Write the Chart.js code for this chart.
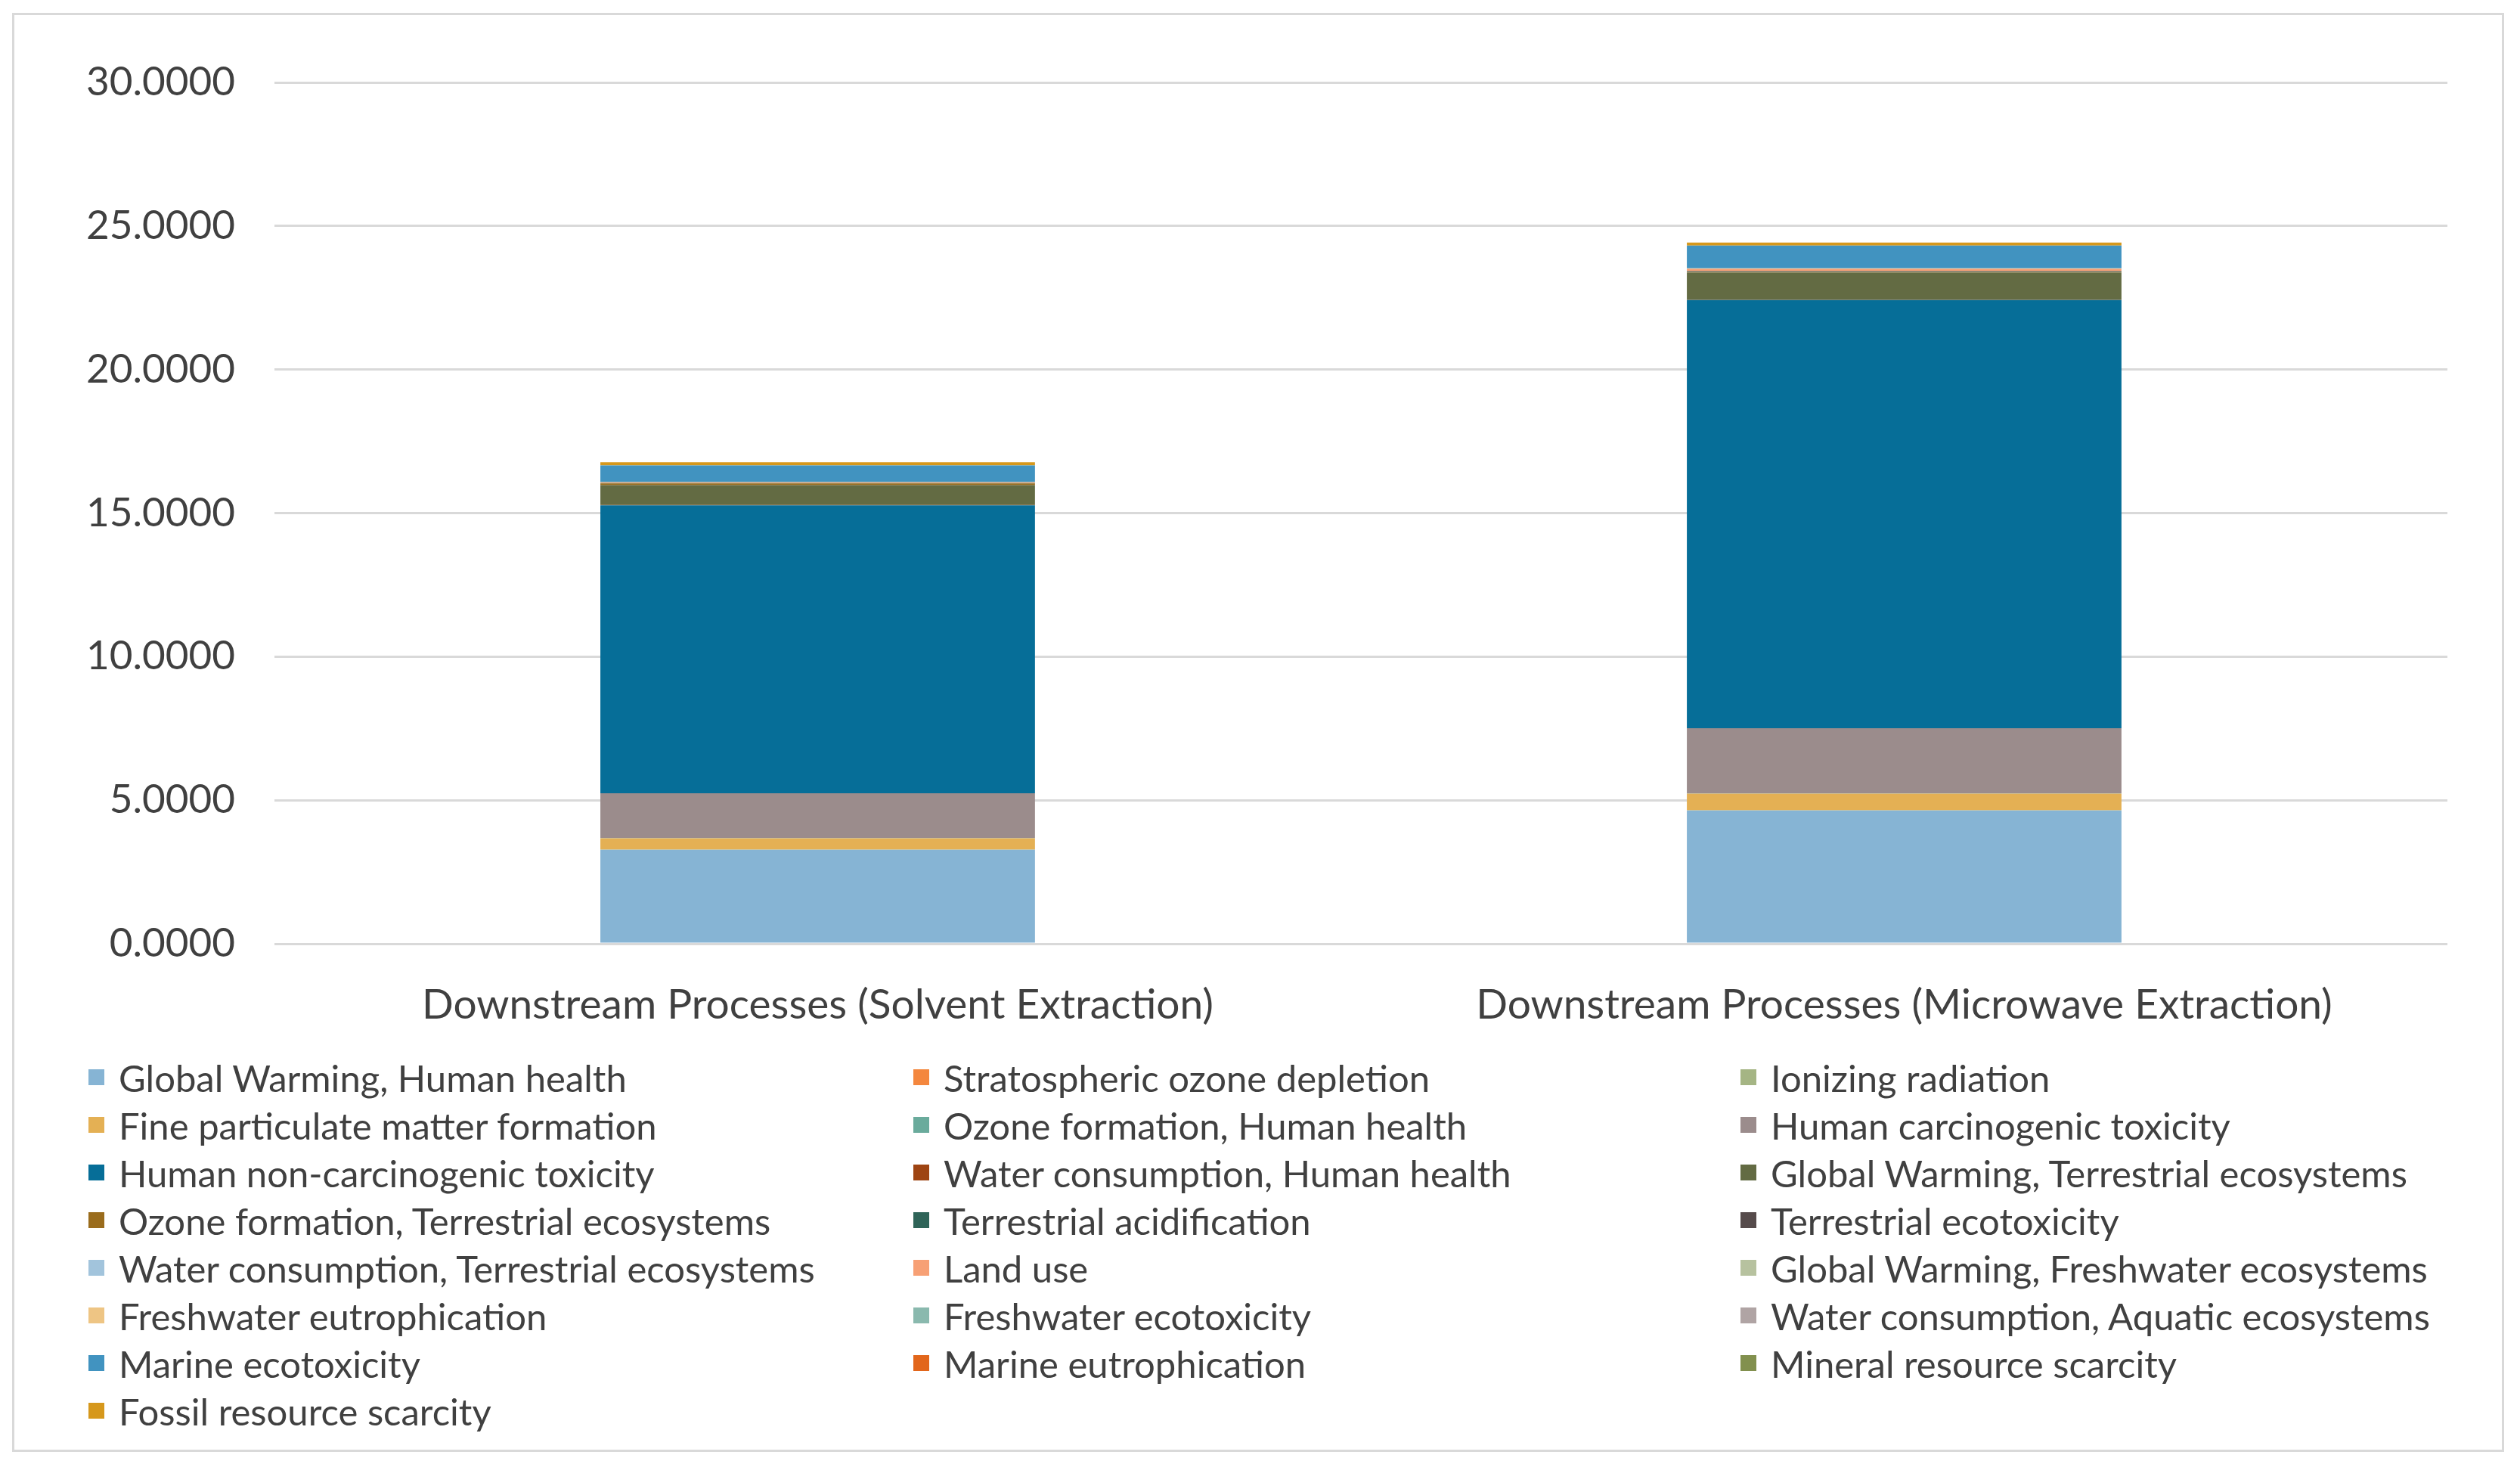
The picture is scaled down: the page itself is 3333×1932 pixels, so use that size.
<!DOCTYPE html>
<html>
<head>
<meta charset="utf-8">
<script src="https://cdn.jsdelivr.net/npm/chart.js@4.4.1/dist/chart.umd.min.js"></script>
<style>
    body { margin: 0; background: #ffffff; }
    .page { position: relative; width: 3333px; height: 1932px; background: #ffffff; overflow: hidden; }
    .frame { position: absolute; left: 16px; top: 17px; width: 3290px; height: 1897px; border: 3px solid #d9d9d9; }
    .chart-box { position: absolute; left: 0; top: 0; width: 3333px; height: 1430px; }
    .legend {
        position: absolute; left: 117px; top: 1393px;
        display: grid; grid-template-columns: 1091px 1094px auto;
        grid-auto-rows: 63px;
        font-family: Lato, "Open Sans", sans-serif; font-size: 49px; color: #404040;
    }
    .legend-item { display: flex; align-items: center; white-space: nowrap; }
    .legend-swatch { width: 21px; height: 21px; margin-right: 19px; flex: none; }
</style>
</head>
<body>
<div class="page">
    <div class="frame"></div>
    <div class="chart-box"><canvas id="impactChart"></canvas></div>
    <div class="legend" id="legend"></div>
</div>

<script>
// Categories (x axis)
const categories = [
    'Downstream Processes (Solvent Extraction)',
    'Downstream Processes (Microwave Extraction)'
];

// Impact categories, in stacking order (bottom to top)
const impactNames = [
    'Global Warming, Human health',
    'Stratospheric ozone depletion',
    'Ionizing radiation',
    'Fine particulate matter formation',
    'Ozone formation, Human health',
    'Human carcinogenic toxicity',
    'Human non-carcinogenic toxicity',
    'Water consumption, Human health',
    'Global Warming, Terrestrial ecosystems',
    'Ozone formation, Terrestrial ecosystems',
    'Terrestrial acidification',
    'Terrestrial ecotoxicity',
    'Water consumption, Terrestrial ecosystems',
    'Land use',
    'Global Warming, Freshwater ecosystems',
    'Freshwater eutrophication',
    'Freshwater ecotoxicity',
    'Water consumption, Aquatic ecosystems',
    'Marine ecotoxicity',
    'Marine eutrophication',
    'Mineral resource scarcity',
    'Fossil resource scarcity'
];

// Values, one per impact category
const solventValues = [
    3.27, 0.002, 0.004, 0.40, 0.006, 1.56, 10.03, 0.01, 0.69, 0.06, 0.01,
    0.005, 0.0001, 0.02, 0.0001, 0.01, 0.003, 0.0001, 0.58, 0.0005, 0.002, 0.11
];
const microwaveValues = [
    4.64, 0.003, 0.006, 0.58, 0.009, 2.27, 14.91, 0.01, 0.95, 0.02, 0.02,
    0.008, 0.0001, 0.08, 0.0001, 0.015, 0.005, 0.0001, 0.79, 0.0005, 0.003, 0.10
];

// Y axis ticks
const yTicks = [0, 5, 10, 15, 20, 25, 30];

// Series colours
const palette = [
    '#86b4d4', '#f4873e', '#a5b584', '#e4b054', '#6aab9c', '#9b8c8c',
    '#066e98', '#9e4412', '#636b43', '#9a6c1c', '#2f6458', '#564b4b',
    '#a2c4dc', '#f7a075', '#b7c29f', '#eec584', '#8ab9ae', '#b0a4a4',
    '#4193c0', '#e2661b', '#82904e', '#d6981c'
];

document.addEventListener('DOMContentLoaded', function() {
    const chart = initImpactChart();
    buildLegend(chart);
});

function initImpactChart() {
    const ctx = document.getElementById('impactChart').getContext('2d');

    const datasets = impactNames.map(function(name, i) {
        return {
            label: name,
            data: [solventValues[i], microwaveValues[i]],
            backgroundColor: palette[i],
            borderWidth: 0,
            barPercentage: 0.4,
            categoryPercentage: 1.0
        };
    });

    return new Chart(ctx, {
        type: 'bar',
        data: {
            labels: categories,
            datasets: datasets
        },
        options: {
            responsive: true,
            maintainAspectRatio: false,
            animation: false,
            layout: {
                padding: { left: 62, right: 96, top: 109, bottom: 20 }
            },
            plugins: {
                legend: { display: false },
                tooltip: { enabled: false }
            },
            scales: {
                x: {
                    stacked: true,
                    grid: { display: false, drawTicks: false },
                    border: { display: false },
                    ticks: {
                        color: '#404040',
                        padding: 48,
                        font: { family: 'Lato', size: 55 }
                    }
                },
                y: {
                    stacked: true,
                    min: yTicks[0],
                    max: yTicks[yTicks.length - 1],
                    afterBuildTicks: function(axis) {
                        axis.ticks = yTicks.map(v => ({ value: v }));
                    },
                    grid: {
                        color: '#d9d9d9',
                        lineWidth: 3,
                        drawTicks: false
                    },
                    border: { display: false },
                    ticks: {
                        color: '#404040',
                        padding: 52,
                        font: { family: 'Lato', size: 53 },
                        callback: function(value) {
                            return Number(value).toFixed(4);
                        }
                    }
                }
            }
        }
    });
}

function buildLegend(chart) {
    const legend = document.getElementById('legend');
    chart.data.datasets.forEach(function(ds) {
        const item = document.createElement('div');
        item.className = 'legend-item';
        const swatch = document.createElement('span');
        swatch.className = 'legend-swatch';
        swatch.style.background = ds.backgroundColor;
        const text = document.createElement('span');
        text.textContent = ds.label;
        item.appendChild(swatch);
        item.appendChild(text);
        legend.appendChild(item);
    });
}
</script>
</body>
</html>
